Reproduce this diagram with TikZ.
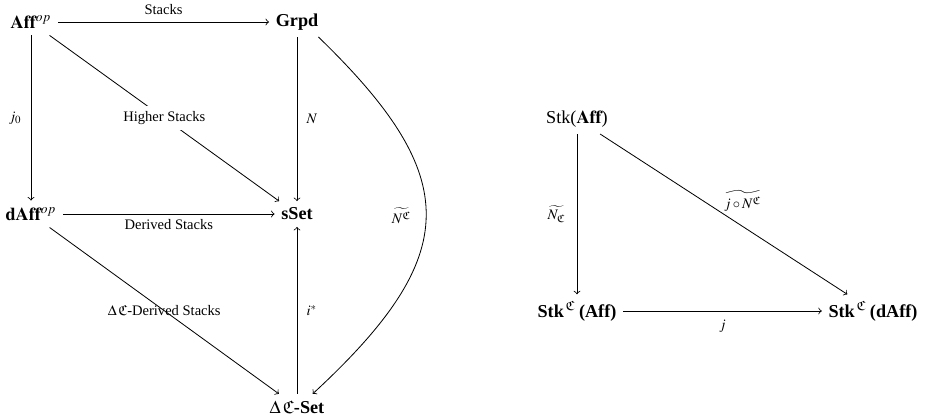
\documentclass[tikz,border=0pt]{standalone}
\usepackage{amsmath}
\usepackage{mathptmx}
\usepackage{amssymb}
\usepackage{fontspec}
\setmainfont{Liberation Serif}
\begin{document}
\begin{tikzpicture}[x=0.55pt,y=-0.55pt,>=to,line width=0.45pt,
  obj/.style={font=\fontsize{10}{12}\selectfont, inner sep=3.5pt},
  lab/.style={font=\fontsize{8}{10}\selectfont, inner sep=2pt}]
\useasboundingbox (0,0) rectangle (927,419);
% left diagram
\node[obj] (A) at (31,22) {$\mathbf{Aff}^{op}$};
\node[obj] (G) at (297,22) {\textbf{Grpd}};
\node[obj] (D) at (31,214) {$\mathbf{dAff}^{op}$};
\node[obj] (S) at (297,214) {\textbf{sSet}};
\node[obj] (X) at (297,407) {$\Delta\,\mathfrak{C}$\textbf{-Set}};
\draw[->] (A) -- node[lab,above=2pt] {Stacks} (G);
\draw[->] (A) -- node[lab,left=3pt] {$j_0$} (D);
\draw[->] (A) -- node[lab,fill=white,inner sep=3pt] {Higher Stacks} (S);
\draw[->] (G) -- node[lab,right=3pt] {$N$} (S);
\draw[->] (D) -- node[lab,below=1pt] {Derived Stacks} (S);
\draw[->] (D) -- node[lab,pos=0.5] {$\Delta\,\mathfrak{C}$-Derived Stacks} (X);
\draw[->] (X) -- node[lab,right=3pt] {$i^{*}$} (S);
\draw[->] (G.-35) .. controls (463,177) and (463,255) .. node[lab,left=6pt] {$\widetilde{N^{\mathfrak{C}}}$} (X.40);
% right diagram
\node[obj] (P) at (577,119) {Stk($\mathbf{Aff}$)};
\node[obj] (Q) at (577,311) {\textbf{Stk}$^{\,\mathfrak{C}}$\,\textbf{(Aff)}};
\node[obj] (R) at (873,311) {\textbf{Stk}$^{\,\mathfrak{C}}$\,\textbf{(dAff)}};
\draw[->] (P) -- node[lab,left=4pt] {$\widetilde{N_{\mathfrak{C}}}$} (Q);
\draw[->] (P) -- node[lab,anchor=south west,xshift=-2pt,yshift=-1pt] {$\widetilde{j\circ N^{\mathfrak{C}}}$} (R);
\draw[->] (Q) -- node[lab,below=2.5pt] {$j$} (R);
\end{tikzpicture}
\end{document}
